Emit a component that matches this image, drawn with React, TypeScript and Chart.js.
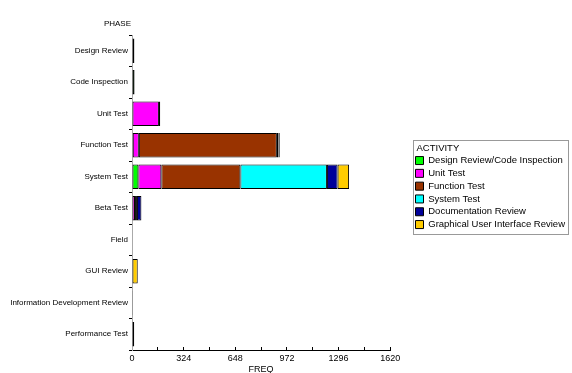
import React, { useEffect, useRef } from 'react';
import { Chart, registerables } from 'chart.js';

Chart.register(...registerables);

const phases = [
  'Design Review',
  'Code Inspection',
  'Unit Test',
  'Function Test',
  'System Test',
  'Beta Test',
  'Field',
  'GUI Review',
  'Information Development Review',
  'Performance Test',
];

const activities = [
  'Design Review/Code Inspection',
  'Unit Test',
  'Function Test',
  'System Test',
  'Documentation Review',
  'Graphical User Interface Review',
];

const activityColors = ['#00ff00', '#ff00ff', '#993300', '#00ffff', '#000099', '#ffcc00'];

const designCodeInspection = [15, 16, 0, 5, 40, 0, 0, 0, 0, 0];
const unitTest = [0, 0, 169, 38, 144, 19, 0, 0, 0, 0];
const functionTest = [0, 0, 8, 866, 496, 6, 0, 0, 0, 0];
const systemTest = [0, 0, 0, 0, 543, 6, 0, 0, 0, 14];
const documentationReview = [0, 0, 0, 10, 67, 28, 0, 0, 5, 0];
const guiReview = [0, 0, 0, 8, 72, 0, 0, 36, 0, 0];

const seriesValues = [
  designCodeInspection,
  unitTest,
  functionTest,
  systemTest,
  documentationReview,
  guiReview,
];

const xMin = 0;
const xMax = 1620;
const xMinorStep = 162;

const legendTitle = 'ACTIVITY';
const yTitle = 'PHASE';
const xTitle = 'FREQ';

const FONT = 'Liberation Sans';

const decorPlugin = {
  id: 'decor',
  afterDraw(chart: any) {
    const ctx = chart.ctx;
    const area = chart.chartArea;
    const ya = chart.scales.y;
    ctx.save();
    ctx.font = `8px "${FONT}"`;
    ctx.fillStyle = '#000';
    ctx.textAlign = 'right';
    ctx.textBaseline = 'middle';
    ctx.fillText(yTitle, ya.right - 1, area.top - 11);

    const lg = chart.legend;
    if (lg && lg.legendHitBoxes && lg.legendHitBoxes.length) {
      const hbs = lg.legendHitBoxes;
      let right = -Infinity, top = Infinity, bottom = -Infinity;
      hbs.forEach((h: any) => {
        right = Math.max(right, h.left + h.width);
        top = Math.min(top, h.top);
        bottom = Math.max(bottom, h.top + h.height);
      });
      const x0 = Math.round(lg.left + 1) + 0.5;
      const y0 = Math.round(top - 16) + 0.5;
      const x1 = Math.round(right + 3) + 0.5;
      const y1 = Math.round(bottom + 5) + 0.5;
      ctx.strokeStyle = '#999999';
      ctx.lineWidth = 1;
      ctx.strokeRect(x0, y0, x1 - x0, y1 - y0);

      ctx.font = `9.5px "${FONT}"`;
      ctx.textAlign = 'left';
      ctx.fillStyle = '#000';
      ctx.fillText(legendTitle, x0 + 3, hbs[0].top + hbs[0].height / 2 - 12.5);
    }
    ctx.restore();
  },
};

export default function App() {
  const canvasRef = useRef<HTMLCanvasElement | null>(null);

  useEffect(() => {
    const canvas = canvasRef.current;
    if (!canvas) return;
    const chart = new Chart(canvas, {
      type: 'bar',
      data: {
        labels: phases,
        datasets: activities.map((name, i) => ({
          label: name,
          data: seriesValues[i],
          backgroundColor: activityColors[i],
          borderColor: '#000000',
          borderWidth: 1,
          borderSkipped: false,
          barPercentage: 0.78,
          categoryPercentage: 1,
        })),
      },
      options: {
        indexAxis: 'y',
        animation: false,
        responsive: true,
        maintainAspectRatio: false,
        layout: { padding: { top: 35, left: 0, right: -3, bottom: 0 } },
        plugins: {
          tooltip: { enabled: false },
          legend: {
            position: 'right',
            align: 'start',
            maxWidth: 220,
            title: {
              display: true,
              text: '',
              position: 'start',
              font: { family: FONT, size: 9.5, lineHeight: 1 },
              padding: { top: 108, bottom: 0 },
            },
            labels: {
              boxWidth: 8,
              boxHeight: 8,
              padding: 3.3,
              color: '#000',
              font: { family: FONT, size: 9.5 },
            },
          },
        },
        scales: {
          x: {
            type: 'linear',
            stacked: true,
            min: xMin,
            max: xMax,
            position: 'bottom',
            border: { color: '#000', width: 1 },
            grid: { drawOnChartArea: false, tickLength: -3, color: '#000' },
            ticks: {
              stepSize: xMinorStep,
              padding: 6,
              color: '#000',
              font: { family: FONT, size: 9 },
              maxRotation: 0,
              autoSkip: false,
              callback: (v: any) => (Math.round(v / xMinorStep) % 2 === 0 ? String(v) : ''),
            },
            title: {
              display: true,
              text: xTitle,
              color: '#000',
              font: { family: FONT, size: 9, lineHeight: 1 },
              padding: { top: 0, bottom: -1 },
            },
            afterFit: (s: any) => {
              s.height = 23;
            },
          },
          y: {
            type: 'category',
            stacked: true,
            border: { color: '#aaaaaa', width: 1 },
            grid: { drawOnChartArea: false, tickLength: 3, color: '#000' },
            ticks: {
              padding: 1,
              color: '#000',
              font: { family: FONT, size: 8 },
              autoSkip: false,
            },
            afterFit: (s: any) => {
              s.width = 132;
            },
          },
          gap: {
            type: 'linear',
            position: 'right',
            display: true,
            grid: { display: false },
            border: { display: false },
            ticks: { display: false },
            afterFit: (s: any) => {
              s.width = 22;
            },
          },
        },
      },
      plugins: [decorPlugin],
    } as any);
    return () => chart.destroy();
  }, []);

  return (
    <div style={{ position: 'fixed', left: 0, top: 0, width: 572, height: 373, background: '#fff' }}>
      <canvas ref={canvasRef} />
    </div>
  );
}
